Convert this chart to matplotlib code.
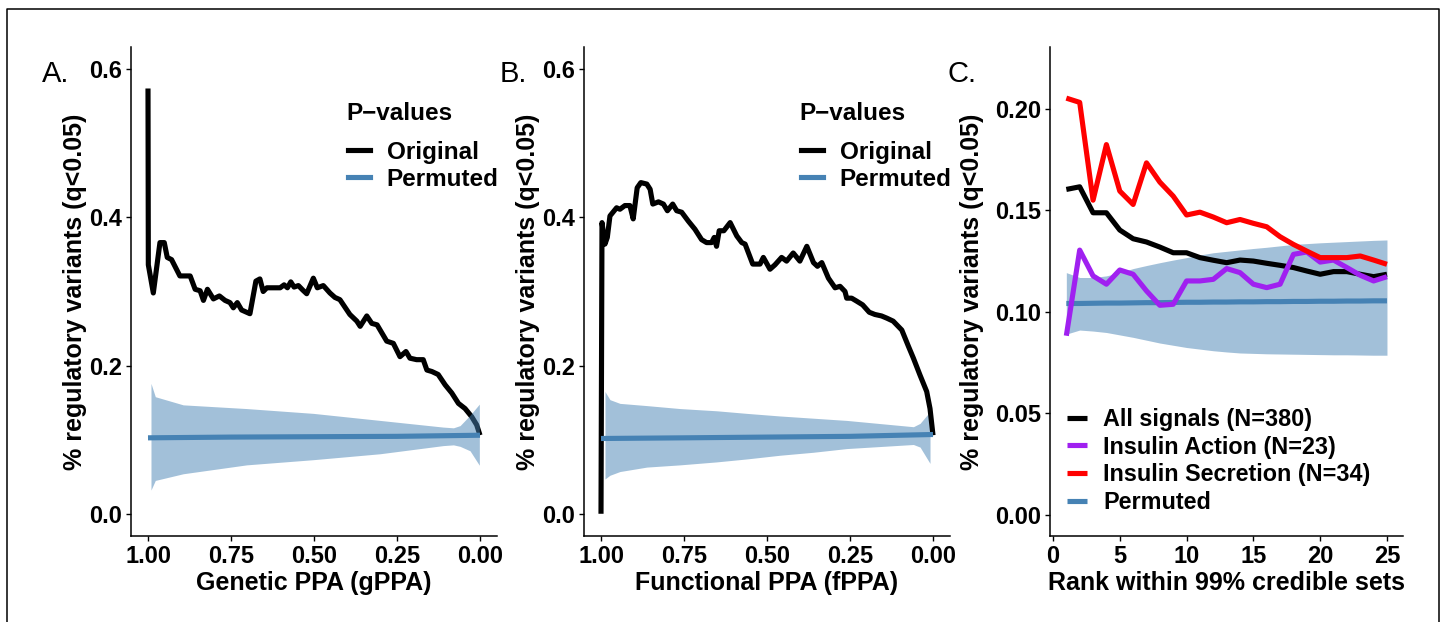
import matplotlib
matplotlib.use("Agg")
import matplotlib.pyplot as plt
from matplotlib.lines import Line2D

plt.rcParams['font.family'] = ['Liberation Sans', 'DejaVu Sans']
plt.rcParams['font.weight'] = 'bold'

# ---- panel A: genetic PPA ----
gppa_x = [1.000, 0.999, 0.984, 0.964, 0.951, 0.942, 0.929, 0.904, 0.873, 0.858,
          0.843, 0.833, 0.821, 0.803, 0.785, 0.768, 0.753, 0.743, 0.731, 0.718,
          0.693, 0.675, 0.663, 0.653, 0.642, 0.602, 0.590, 0.580, 0.570, 0.560,
          0.547, 0.534, 0.522, 0.502, 0.490, 0.472, 0.452, 0.437, 0.422, 0.392,
          0.371, 0.361, 0.341, 0.326, 0.310, 0.281, 0.261, 0.241, 0.223, 0.211,
          0.191, 0.171, 0.160, 0.145, 0.126, 0.105, 0.085, 0.065, 0.045, 0.025,
          0.010, 0.000]
gppa_orig = [0.574, 0.336, 0.298, 0.366, 0.366, 0.346, 0.343, 0.321, 0.321, 0.303,
             0.301, 0.288, 0.303, 0.290, 0.294, 0.288, 0.285, 0.278, 0.285, 0.275,
             0.270, 0.314, 0.317, 0.300, 0.305, 0.305, 0.309, 0.305, 0.313, 0.306,
             0.308, 0.302, 0.297, 0.318, 0.305, 0.308, 0.298, 0.292, 0.289, 0.269,
             0.260, 0.253, 0.267, 0.257, 0.255, 0.233, 0.230, 0.212, 0.219, 0.210,
             0.208, 0.208, 0.194, 0.192, 0.188, 0.174, 0.163, 0.149, 0.142, 0.131,
             0.120, 0.106]
gppa_perm_x = [1.0, 0.75, 0.5, 0.25, 0.0]
gppa_perm = [0.1025, 0.1035, 0.104, 0.1045, 0.106]
gppa_band_x = [0.991, 0.978, 0.894, 0.703, 0.502, 0.301, 0.111, 0.080, 0.060, 0.030, 0.002]
gppa_band_hi = [0.176, 0.158, 0.147, 0.142, 0.1355, 0.126, 0.117, 0.116, 0.119, 0.133, 0.148]
gppa_band_lo = [0.032, 0.045, 0.054, 0.066, 0.073, 0.081, 0.092, 0.093, 0.091, 0.085, 0.0655]

# ---- panel B: functional PPA ----
fppa_x = [1.000, 0.997, 0.988, 0.981, 0.973, 0.953, 0.943, 0.928, 0.913, 0.903,
          0.891, 0.880, 0.862, 0.852, 0.844, 0.827, 0.812, 0.800, 0.784, 0.772,
          0.757, 0.737, 0.717, 0.697, 0.682, 0.667, 0.659, 0.652, 0.644, 0.630,
          0.611, 0.591, 0.576, 0.566, 0.543, 0.521, 0.511, 0.491, 0.476, 0.456,
          0.441, 0.421, 0.401, 0.380, 0.360, 0.348, 0.335, 0.315, 0.295, 0.280,
          0.265, 0.260, 0.245, 0.230, 0.212, 0.192, 0.175, 0.155, 0.139, 0.120,
          0.094, 0.074, 0.059, 0.039, 0.019, 0.009, 0.000]
fppa_orig = [0.000, 0.393, 0.364, 0.373, 0.402, 0.413, 0.411, 0.416, 0.416, 0.398,
             0.440, 0.447, 0.445, 0.438, 0.418, 0.421, 0.418, 0.409, 0.418, 0.409,
             0.407, 0.395, 0.384, 0.370, 0.366, 0.366, 0.373, 0.361, 0.382, 0.382,
             0.393, 0.375, 0.366, 0.364, 0.337, 0.337, 0.346, 0.330, 0.336, 0.346,
             0.341, 0.352, 0.341, 0.361, 0.339, 0.334, 0.339, 0.318, 0.305, 0.307,
             0.300, 0.291, 0.291, 0.287, 0.282, 0.272, 0.269, 0.267, 0.264, 0.260,
             0.248, 0.226, 0.210, 0.187, 0.165, 0.142, 0.106]
fppa_perm_x = [1.0, 0.75, 0.5, 0.25, 0.0]
fppa_perm = [0.1016, 0.1025, 0.1035, 0.1045, 0.107]
fppa_band_x = [0.988, 0.973, 0.943, 0.862, 0.762, 0.652, 0.561, 0.461, 0.361, 0.260,
               0.059, 0.039, 0.009]
fppa_band_hi = [0.165, 0.154, 0.149, 0.146, 0.142, 0.139, 0.1355, 0.132, 0.129, 0.126,
                0.1175, 0.122, 0.138]
fppa_band_lo = [0.047, 0.052, 0.057, 0.063, 0.066, 0.070, 0.074, 0.079, 0.083, 0.088,
                0.0935, 0.090, 0.068]

# ---- panel C: rank within credible sets ----
ranks = list(range(1, 26))
all_signals = [0.1603, 0.1616, 0.1488, 0.1488, 0.1403, 0.1360, 0.1344, 0.1319, 0.1291, 0.1291,
               0.1267, 0.1254, 0.1242, 0.1255, 0.1250, 0.1239, 0.1229, 0.1218, 0.1201, 0.1185,
               0.1198, 0.1198, 0.1185, 0.1173, 0.1185]
insulin_action = [0.0882, 0.1304, 0.1177, 0.1136, 0.1206, 0.1185, 0.1103, 0.1032, 0.1037, 0.1152,
                  0.1152, 0.1160, 0.1213, 0.1193, 0.1136, 0.1119, 0.1136, 0.1283, 0.1295, 0.1245,
                  0.1255, 0.1218, 0.1180, 0.1152, 0.1173]
insulin_secretion = [0.2053, 0.2032, 0.1550, 0.1824, 0.1595, 0.1529, 0.1734, 0.1639, 0.1570, 0.1477,
                     0.1491, 0.1467, 0.1439, 0.1455, 0.1436, 0.1419, 0.1370, 0.1332, 0.1299, 0.1267,
                     0.1267, 0.1267, 0.1275, 0.1255, 0.1234]
rank_perm = [0.1041, 0.1041, 0.1042, 0.1043, 0.1043, 0.1044, 0.1045, 0.1045, 0.1046, 0.1047,
             0.1047, 0.1048, 0.1048, 0.1049, 0.1049, 0.1050, 0.1050, 0.1051, 0.1051, 0.1052,
             0.1052, 0.1053, 0.1053, 0.1054, 0.1054]
rank_band_hi = [0.1193, 0.1169, 0.1169, 0.1177, 0.1193, 0.1213, 0.1228, 0.1242, 0.1255, 0.1267,
                0.1280, 0.1291, 0.1298, 0.1305, 0.1312, 0.1318, 0.1325, 0.1332, 0.1336, 0.1340,
                0.1343, 0.1346, 0.1349, 0.1352, 0.1354]
rank_band_lo = [0.0890, 0.0910, 0.0905, 0.0898, 0.0886, 0.0874, 0.0860, 0.0846, 0.0835, 0.0824,
                0.0816, 0.0808, 0.0802, 0.0797, 0.0795, 0.0793, 0.0792, 0.0791, 0.0790, 0.0789,
                0.0788, 0.0788, 0.0787, 0.0786, 0.0786]

BLUE = '#4682B4'
PURPLE = '#A020F0'
LW = 3.7
W, H = 1444, 622
TICK_FS = 17
TITLE_FS = 18

fig = plt.figure(figsize=(W / 100, H / 100), dpi=100)

def style_axes(ax):
    for s in ['top', 'right']:
        ax.spines[s].set_visible(False)
    for s in ['left', 'bottom']:
        ax.spines[s].set_linewidth(1.1)
    ax.tick_params(length=3.5, width=1.0, pad=3, labelsize=TICK_FS)
    for lab in ax.get_xticklabels() + ax.get_yticklabels():
        lab.set_fontweight('bold')

def line(ax, x, y, color, z):
    return ax.plot(x, y, color=color, lw=LW, solid_joinstyle='round',
                   solid_capstyle='butt', zorder=z)[0]

ylab = '% regulatory variants (q<0.05)'

def ppa_panel(left, x, orig, px, perm, bx, blo, bhi, xlabel, band_on_top):
    ax = fig.add_axes([left / W, 86 / H, 365.2 / W, 489 / H])
    line(ax, x, orig, 'black', 2)
    ax.fill_between(bx, blo, bhi, color=BLUE, alpha=0.5, lw=0,
                    zorder=3 if band_on_top else 1)
    line(ax, px, perm, BLUE, 4)
    ax.set_xlim(1.05, -0.05)
    ax.set_ylim(-0.03, 0.63)
    ax.set_xticks([1.0, 0.75, 0.5, 0.25, 0.0])
    ax.set_xticklabels(['1.00', '0.75', '0.50', '0.25', '0.00'])
    ax.set_yticks([0.0, 0.2, 0.4, 0.6])
    ax.set_yticklabels(['0.0', '0.2', '0.4', '0.6'])
    ax.set_xlabel(xlabel, fontsize=TITLE_FS, fontweight='bold', labelpad=2)
    ax.set_ylabel(ylab, fontsize=TITLE_FS, fontweight='bold', labelpad=2)
    style_axes(ax)
    return ax

axA = ppa_panel(131.4, gppa_x, gppa_orig, gppa_perm_x, gppa_perm,
                gppa_band_x, gppa_band_lo, gppa_band_hi, 'Genetic PPA (gPPA)', True)
axB = ppa_panel(584.4, fppa_x, fppa_orig, fppa_perm_x, fppa_perm,
                fppa_band_x, fppa_band_lo, fppa_band_hi, 'Functional PPA (fPPA)', False)

for ax, xl in [(axA, 346.7), (axB, 799.7)]:
    fig.text(xl / W, 1 - 114 / H, 'P\u2212values', fontsize=17.5, fontweight='bold',
             ha='left', va='center')
    handles = [Line2D([], [], color='black', lw=LW), Line2D([], [], color=BLUE, lw=LW)]
    ax.legend(handles, ['Original', 'Permuted'], loc='upper left',
              bbox_to_anchor=((xl + 1.3) / W, 1 - 141 / H), bbox_transform=fig.transFigure,
              frameon=False, prop={'weight': 'bold', 'size': 17.5},
              handlelength=0.9, handletextpad=0.69, labelspacing=0.15,
              borderpad=0, borderaxespad=0)

# panel C
axC = fig.add_axes([1050.3 / W, 86 / H, 352.7 / W, 489 / H])
axC.fill_between(ranks, rank_band_lo, rank_band_hi, color=BLUE, alpha=0.5, lw=0, zorder=1)
l_perm = line(axC, ranks, rank_perm, BLUE, 2)
l_all = line(axC, ranks, all_signals, 'black', 3)
l_act = line(axC, ranks, insulin_action, PURPLE, 3)
l_sec = line(axC, ranks, insulin_secretion, 'red', 3)
axC.set_xlim(-0.2, 26.2)
axC.set_ylim(-0.0105, 0.2305)
axC.set_xticks([0, 5, 10, 15, 20, 25])
axC.set_yticks([0.0, 0.05, 0.10, 0.15, 0.20])
axC.set_yticklabels(['0.00', '0.05', '0.10', '0.15', '0.20'])
axC.set_xlabel('Rank within 99% credible sets', fontsize=TITLE_FS, fontweight='bold', labelpad=2)
axC.set_ylabel(ylab, fontsize=TITLE_FS, fontweight='bold', labelpad=8)
style_axes(axC)
axC.legend([l_all, l_act, l_sec, l_perm],
           ['All signals (N=380)', 'Insulin Action (N=23)',
            'Insulin Secretion (N=34)', 'Permuted'],
           loc='upper left', bbox_to_anchor=(1066.7 / W, 1 - 407.7 / H),
           bbox_transform=fig.transFigure, frameon=False,
           prop={'weight': 'bold', 'size': 16.8},
           handlelength=0.88, handletextpad=0.69, labelspacing=0.21,
           borderpad=0, borderaxespad=0)

# panel letters
for xl, letter in [(42, 'A.'), (500, 'B.'), (948, 'C.')]:
    fig.text(xl / W, 1 - 74 / H, letter, fontsize=21, fontweight='normal',
             ha='left', va='center')

# outer frame (left, top, right edges)
fx0, fx1, fy = 7 / W, 1439 / W, 1 - 9 / H
fig.add_artist(Line2D([fx0, fx0, fx1, fx1], [0, fy, fy, 0], color='black', lw=1.1,
                      transform=fig.transFigure))

fig.savefig('out.png', dpi=100)
